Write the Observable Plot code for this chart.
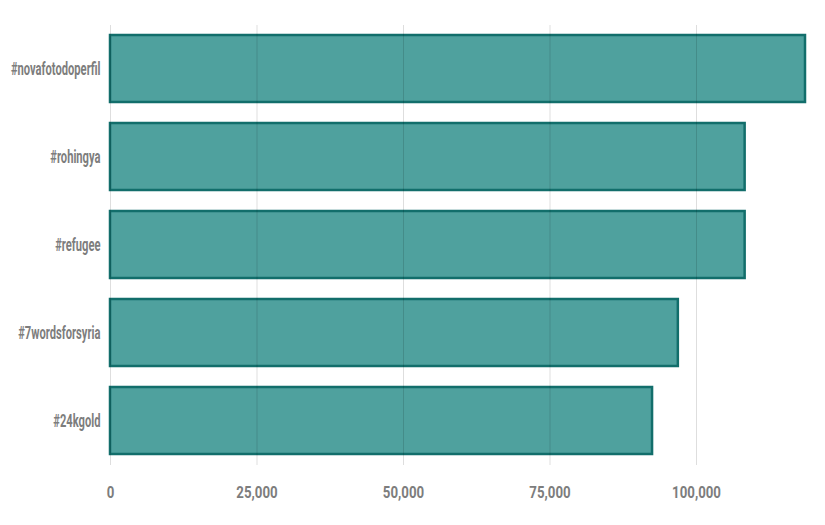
<!DOCTYPE html>
<html>
<head>
<meta charset="utf-8">
<script src="https://cdn.jsdelivr.net/npm/d3@7"></script>
<script src="https://cdn.jsdelivr.net/npm/@observablehq/plot@0.6"></script>
<style>
  html, body { margin: 0; padding: 0; background: #fff; }
  #chart svg { font-family: Roboto, "Noto Sans", sans-serif; }
</style>
</head>
<body>
<div id="chart"></div>
<script>
const hashtags = ["#novafotodoperfil", "#rohingya", "#refugee", "#7wordsforsyria", "#24kgold"];
const counts = [118600, 108300, 108300, 96900, 92500];
const xTicks = [0, 25000, 50000, 75000, 100000];

const data = hashtags.map((h, i) => ({tag: h, count: counts[i]}));

const chart = Plot.plot({
  width: 825,
  height: 525,
  marginLeft: 110,
  marginRight: 20,
  marginTop: 25,
  marginBottom: 60,
  style: {fontSize: "17px", fontWeight: "bold", color: "#7d7d7d", background: "#fff"},
  x: {domain: [0, 118600], ticks: xTicks, tickFormat: d3.format(","), label: null},
  y: {domain: hashtags, paddingInner: 0.236, paddingOuter: 0.09, label: null},
  marks: [
    Plot.barX(data, {y: "tag", x: "count", fill: "#4fa19e", stroke: "#126e6b", strokeWidth: 2.5}),
    Plot.gridX(xTicks, {stroke: "#000", strokeOpacity: 0.13}),
    Plot.axisX(xTicks, {tickSize: 0, tickPadding: 20, tickFormat: d3.format(","), label: null, fill: "#7d7d7d", fontSize: 17}),
    Plot.axisY({tickSize: 0, tickPadding: 10, label: null, fill: "#7d7d7d", fontSize: 18})
  ]
});
document.getElementById("chart").appendChild(chart);
// condense glyphs horizontally to mimic a condensed typeface
function condense(selector, factor) {
  chart.querySelectorAll(selector).forEach(t => {
    const w = t.getComputedTextLength();
    if (w > 0) {
      t.setAttribute("textLength", (w * factor).toFixed(1));
      t.setAttribute("lengthAdjust", "spacingAndGlyphs");
    }
  });
}
condense('g[aria-label="y-axis tick label"] text', 0.62);
condense('g[aria-label="x-axis tick label"] text', 0.78);
</script>
</body>
</html>
